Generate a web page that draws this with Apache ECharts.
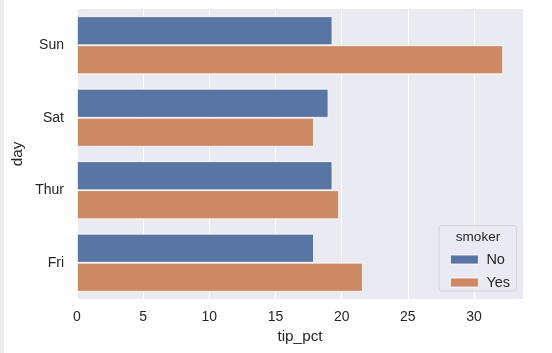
<!DOCTYPE html>
<html><head><meta charset="utf-8">
<script src="https://cdn.jsdelivr.net/npm/echarts@6/dist/echarts.min.js"></script>
<style>html,body{margin:0;padding:0;background:#fff}#c{width:552px;height:353px}</style>
</head><body><div id="c"></div>
<script>
const days = ['Sun', 'Sat', 'Thur', 'Fri'];
const smokerNo = [19.3, 19.0, 19.3, 17.9];
const smokerYes = [32.2, 17.9, 19.8, 21.6];
const xTicks = [0, 5, 10, 15, 20, 25, 30];

const chart = echarts.init(document.getElementById('c'), null, {renderer: 'canvas'});
const font = 'Liberation Sans, Arial, sans-serif';
chart.setOption({
  animation: false,
  backgroundColor: '#fff',
  textStyle: {fontFamily: font},
  grid: {left: 77, right: 29, top: 9, bottom: 54, backgroundColor: '#eaeaf2', show: true, borderWidth: 0},
  xAxis: {
    type: 'value', min: 0, max: 33.7, interval: 5,
    name: 'tip_pct', nameLocation: 'middle', nameGap: 30,
    nameTextStyle: {color: '#262626', fontSize: 15.3, fontFamily: font},
    axisLine: {show: false}, axisTick: {show: false},
    axisLabel: {color: '#262626', fontSize: 14, margin: 11, fontFamily: font,
      formatter: v => xTicks.indexOf(v) >= 0 ? String(v) : ''},
    splitLine: {show: true, lineStyle: {color: '#fff', width: 1}}
  },
  yAxis: {
    type: 'category', data: days, inverse: true,
    name: 'day', nameLocation: 'middle', nameGap: 52, nameRotate: 90, nameMoveOverlap: false,
    nameTextStyle: {color: '#262626', fontSize: 15.3, fontFamily: font},
    axisLine: {show: false}, axisTick: {show: false},
    axisLabel: {color: '#262626', fontSize: 14, margin: 13, fontFamily: font},
    splitLine: {show: false}
  },
  legend: {
    data: ['No', 'Yes'], orient: 'vertical', left: 445, top: 247, z: 10,
    itemWidth: 28, itemHeight: 9, itemGap: 8,
    itemStyle: {borderColor: '#fff', borderWidth: 0.8},
    textStyle: {color: '#262626', fontSize: 14.5, fontFamily: font, padding: [0, 0, 0, 3]},
    icon: 'rect'
  },
  graphic: [
    {type: 'rect', z: 1, shape: {x: 0, y: 0, width: 4, height: 353}, style: {fill: '#ececec'}},
    {type: 'rect', z: 5, shape: {x: 439, y: 225.5, width: 77.5, height: 65.5, r: 3},
     style: {fill: 'rgba(234,234,242,0.85)', stroke: '#d4d4d4', lineWidth: 1}},
    {type: 'text', z: 6, x: 478, y: 237, style: {text: 'smoker', fill: '#262626', font: '13.5px ' + font, align: 'center', verticalAlign: 'middle'}}
  ],
  series: [
    {name: 'No', type: 'bar', data: smokerNo, barCategoryGap: '20%', barGap: '0%',
     itemStyle: {color: '#5975a4', borderColor: '#fff', borderWidth: 0.8}},
    {name: 'Yes', type: 'bar', data: smokerYes,
     itemStyle: {color: '#cc8963', borderColor: '#fff', borderWidth: 0.8}}
  ]
});
</script></body></html>
